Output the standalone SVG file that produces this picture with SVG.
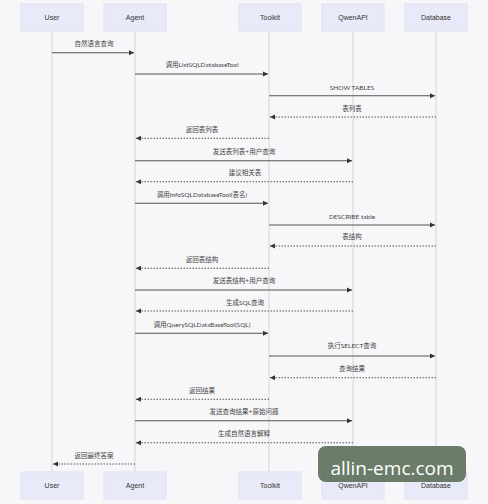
<svg xmlns="http://www.w3.org/2000/svg" width="488" height="504" viewBox="0 0 488 504">
<defs>
<style>
.actor{fill:#e9eaf9;stroke:#dfe0f2;stroke-width:1}
.atext{font-family:"Liberation Sans",Arial,sans-serif;font-size:7px;fill:#333;text-anchor:middle}
.life{stroke:#d3d5d8;stroke-width:1}
.msg{stroke:#555;stroke-width:1.1;fill:none}
.dash{stroke-dasharray:1.5,1.5}
.mtext{font-family:Lato,"Noto Sans CJK SC",sans-serif;font-size:6.5px;fill:#444;text-anchor:middle}
</style>
<marker id="ah" markerWidth="6" markerHeight="6" refX="5" refY="3" orient="auto" markerUnits="userSpaceOnUse">
<path d="M0,0.5 L5,3 L0,5.5 Z" fill="#333"/>
</marker>
</defs>
<rect width="488" height="504" fill="#f7f7f9"/>
<g id="lifelines">
<line class="life" x1="52" y1="31" x2="52" y2="472"/>
<line class="life" x1="135" y1="31" x2="135" y2="472"/>
<line class="life" x1="269" y1="31" x2="269" y2="472"/>
<line class="life" x1="353" y1="31" x2="353" y2="472"/>
<line class="life" x1="436" y1="31" x2="436" y2="472"/>
</g>
<g id="user"><rect class="actor" x="21" y="4" width="62" height="27"/><text class="atext" x="52" y="20">User</text>
<rect class="actor" x="21" y="472" width="62" height="27"/><text class="atext" x="52" y="488">User</text></g>
<g id="agent"><rect class="actor" x="104" y="4" width="62" height="27"/><text class="atext" x="135" y="20">Agent</text>
<rect class="actor" x="104" y="472" width="62" height="27"/><text class="atext" x="135" y="488">Agent</text></g>
<g id="toolkit"><rect class="actor" x="239" y="4" width="62" height="27"/><text class="atext" x="270" y="20">Toolkit</text>
<rect class="actor" x="239" y="472" width="62" height="27"/><text class="atext" x="270" y="488">Toolkit</text></g>
<g id="qwenapi"><rect class="actor" x="322" y="4" width="62" height="27"/><text class="atext" x="353" y="20">QwenAPI</text>
<rect class="actor" x="322" y="472" width="62" height="27"/><text class="atext" x="353" y="488">QwenAPI</text></g>
<g id="database"><rect class="actor" x="405" y="4" width="62" height="27"/><text class="atext" x="436" y="20">Database</text>
<rect class="actor" x="405" y="472" width="62" height="27"/><text class="atext" x="436" y="488">Database</text></g>
<g id="connectors">
<line class="msg" x1="52" y1="52.7" x2="134" y2="52.7" marker-end="url(#ah)"/>
<line class="msg" x1="135" y1="74" x2="268" y2="74" marker-end="url(#ah)"/>
<line class="msg" x1="269" y1="95.7" x2="435" y2="95.7" marker-end="url(#ah)"/>
<line class="msg dash" x1="436" y1="117" x2="270" y2="117" marker-end="url(#ah)"/>
<line class="msg dash" x1="269" y1="138.3" x2="136" y2="138.3" marker-end="url(#ah)"/>
<line class="msg" x1="135" y1="160.7" x2="352" y2="160.7" marker-end="url(#ah)"/>
<line class="msg dash" x1="353" y1="181.7" x2="136" y2="181.7" marker-end="url(#ah)"/>
<line class="msg" x1="135" y1="203.3" x2="268" y2="203.3" marker-end="url(#ah)"/>
<line class="msg" x1="269" y1="225" x2="435" y2="225" marker-end="url(#ah)"/>
<line class="msg dash" x1="436" y1="246" x2="270" y2="246" marker-end="url(#ah)"/>
<line class="msg dash" x1="269" y1="268.3" x2="136" y2="268.3" marker-end="url(#ah)"/>
<line class="msg" x1="135" y1="290" x2="352" y2="290" marker-end="url(#ah)"/>
<line class="msg dash" x1="353" y1="311" x2="136" y2="311" marker-end="url(#ah)"/>
<line class="msg" x1="135" y1="333.3" x2="268" y2="333.3" marker-end="url(#ah)"/>
<line class="msg" x1="269" y1="356" x2="435" y2="356" marker-end="url(#ah)"/>
<line class="msg dash" x1="436" y1="377.7" x2="270" y2="377.7" marker-end="url(#ah)"/>
<line class="msg dash" x1="269" y1="399.3" x2="136" y2="399.3" marker-end="url(#ah)"/>
<line class="msg" x1="135" y1="420.7" x2="352" y2="420.7" marker-end="url(#ah)"/>
<line class="msg dash" x1="353" y1="442.7" x2="136" y2="442.7" marker-end="url(#ah)"/>
<line class="msg dash" x1="135" y1="464" x2="53" y2="464" marker-end="url(#ah)"/>
</g>
<g id="labels">
<text class="mtext" x="94" y="45.5">自然语言查询</text>
<text class="mtext" x="202" y="66.5">调用ListSQLDatabaseTool</text>
<text class="mtext" x="352" y="89.5">SHOW TABLES</text>
<text class="mtext" x="352" y="110.5">表列表</text>
<text class="mtext" x="202" y="131.5">返回表列表</text>
<text class="mtext" x="244" y="153.5">发送表列表+用户查询</text>
<text class="mtext" x="245" y="175">建议相关表</text>
<text class="mtext" x="202" y="196.5">调用InfoSQLDatabaseTool(表名)</text>
<text class="mtext" x="352" y="218.5">DESCRIBE table</text>
<text class="mtext" x="352" y="239">表结构</text>
<text class="mtext" x="202" y="261.5">返回表结构</text>
<text class="mtext" x="244" y="283">发送表结构+用户查询</text>
<text class="mtext" x="245" y="304.5">生成SQL查询</text>
<text class="mtext" x="202" y="326.5">调用QuerySQLDataBaseTool(SQL)</text>
<text class="mtext" x="352" y="348">执行SELECT查询</text>
<text class="mtext" x="352" y="370.5">查询结果</text>
<text class="mtext" x="202" y="392.5">返回结果</text>
<text class="mtext" x="244" y="413.5">发送查询结果+原始问题</text>
<text class="mtext" x="244" y="435.5">生成自然语言解释</text>
<text class="mtext" x="94" y="457.5">返回最终答案</text>
</g>
<g id="watermark">
<rect x="318" y="446" width="148" height="36" rx="8" fill="#5e715c" fill-opacity="0.92"/>
<text x="392" y="475" font-family="'Open Sans','Noto Sans',sans-serif" font-size="19" fill="#ffffff" text-anchor="middle">allin-emc.com</text>
</g>
</svg>
